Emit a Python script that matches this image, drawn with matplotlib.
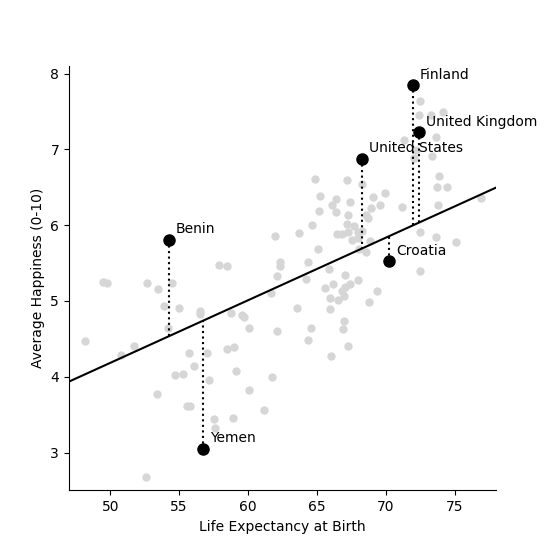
import matplotlib
matplotlib.use("Agg")
import matplotlib.pyplot as plt

# Background countries: life expectancy and average happiness
life_exp = [61.93, 57.93, 58.51, 49.49, 49.74, 52.69, 54.47, 53.47, 62.31, 62.35,
            62.11, 61.67, 53.93, 55.02, 56.55, 56.55, 58.76, 59.68, 59.60, 60.11,
            62.13, 54.18, 48.19, 51.75, 50.80, 55.75, 57.04, 58.51, 59.02, 56.11,
            59.15, 54.73, 55.31, 57.20, 61.71, 53.42, 60.11, 55.56, 55.80, 61.13,
            57.55, 58.93, 57.64, 52.62,
            64.87, 67.17, 68.31, 69.93, 65.20, 66.37, 69.09, 66.13, 67.39, 69.62,
            71.17, 65.13, 66.42, 68.94, 67.24, 68.58, 68.69, 64.62, 67.20, 67.73,
            63.68, 66.47, 66.85, 67.24, 67.97, 68.29, 67.56, 67.97, 68.84, 65.06,
            68.09, 68.58, 64.33, 65.89, 64.24, 67.07, 67.97, 66.15, 65.57, 67.02,
            67.39, 66.83, 66.95, 66.54, 65.98, 69.38, 68.77, 63.53, 65.93, 66.95,
            66.88, 64.60, 64.33, 67.24, 66.05,
            72.48, 72.40, 73.29, 74.13, 73.64, 71.36, 72.21, 72.04, 73.38, 73.86,
            73.69, 74.44, 73.79, 76.94, 72.48, 73.64, 75.12, 72.48]
happiness = [5.86, 5.48, 5.46, 5.25, 5.24, 5.24, 5.24, 5.16, 5.51, 5.46,
             5.33, 5.10, 4.93, 4.91, 4.87, 4.83, 4.84, 4.79, 4.81, 4.65,
             4.60, 4.65, 4.47, 4.41, 4.29, 4.32, 4.31, 4.37, 4.39, 4.14,
             4.08, 4.02, 4.03, 3.96, 4.00, 3.77, 3.82, 3.61, 3.61, 3.56,
             3.44, 3.45, 3.33, 2.68,
             6.61, 6.60, 6.55, 6.43, 6.39, 6.35, 6.37, 6.27, 6.30, 6.27,
             6.24, 6.19, 6.17, 6.23, 6.14, 6.13, 6.09, 6.00, 6.02, 5.99,
             5.90, 5.88, 5.89, 5.91, 5.91, 5.93, 5.81, 5.83, 5.79, 5.68,
             5.69, 5.64, 5.51, 5.42, 5.29, 5.34, 5.28, 5.23, 5.17, 5.19,
             5.23, 5.13, 5.07, 5.01, 5.04, 5.13, 4.99, 4.91, 4.89, 4.73,
             4.63, 4.65, 4.49, 4.40, 4.27,
             7.64, 7.46, 7.46, 7.50, 7.17, 7.13, 6.99, 6.89, 6.92, 6.65,
             6.51, 6.51, 6.27, 6.36, 5.91, 5.84, 5.78, 5.40]

# Highlighted countries
hl_names = ["Finland", "United Kingdom", "United States", "Croatia", "Benin", "Yemen"]
hl_life = [71.95, 72.40, 68.31, 70.27, 54.27, 56.77]
hl_happy = [7.85, 7.23, 6.88, 5.53, 5.81, 3.05]

# Regression fit (happiness = intercept + slope * life expectancy)
fit_slope = 0.0826
fit_intercept = 0.053

fig, ax = plt.subplots(figsize=(5.51, 5.51), dpi=100)

ax.scatter(life_exp, happiness, s=36, color="#d6d6d6", zorder=1, linewidths=0)
ax.axline((0, fit_intercept), slope=fit_slope, color="black", lw=1.5, zorder=2)

for name, x, y in zip(hl_names, hl_life, hl_happy):
    y_fit = fit_intercept + fit_slope * x
    ax.plot([x, x], [y, y_fit], color="black", ls=":", lw=1.5, zorder=2)
    ax.annotate(name, (x, y), xytext=(5, 4.5), textcoords="offset points",
                fontsize=10, zorder=4)

ax.scatter(hl_life, hl_happy, s=64, color="black", zorder=3)

ax.set_xlim(47, 78)
ax.set_ylim(2.5, 8.1)
ax.set_xticks([50, 55, 60, 65, 70, 75])
ax.set_yticks([3, 4, 5, 6, 7, 8])
ax.set_xlabel("Life Expectancy at Birth")
ax.set_ylabel("Average Happiness (0-10)")
ax.spines["top"].set_visible(False)
ax.spines["right"].set_visible(False)

fig.savefig("out.png", dpi=100)
